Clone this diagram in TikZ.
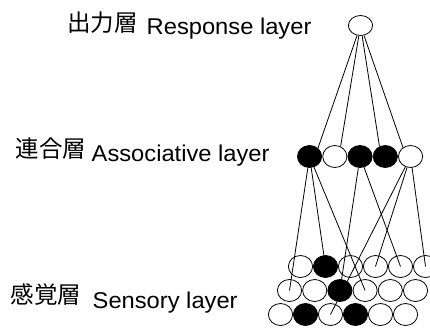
\documentclass[tikz,border=0pt]{standalone}
\usepackage{fontspec}
\setmainfont{Liberation Sans}
\newfontfamily\labelfont[FakeStretch=1.04]{Liberation Sans}
\newfontfamily\cjkfont{Noto Sans CJK JP}
\usetikzlibrary{shapes.geometric}

\begin{document}
\begin{tikzpicture}[x=1pt,y=-1pt,
  unit/.style={ellipse,draw,line width=0.8pt,inner sep=0pt,
    minimum width=24.2pt,minimum height=22pt},
  off/.style={unit,fill=white},
  on/.style={unit,fill=black},
  conn/.style={line width=0.8pt},
  en/.style={anchor=base west,inner sep=0pt,font=\labelfont\fontsize{22.8}{26}\selectfont},
  jp/.style={anchor=west,inner sep=0pt,font=\cjkfont\fontsize{23.5}{26}\selectfont}]
\useasboundingbox (0,0) rectangle (430,327);
\clip (0,0) rectangle (430,327);

% layer labels
\node[jp] (jout) at (67,22.5) {出力層};
\node[en] (eout) at (146.5,34) {Response layer};
\node[jp] (jass) at (15.5,149) {連合層};
\node[en] (eass) at (91.5,161) {Associative layer};
\node[jp] (jsen) at (10.5,294.7) {感覚層};
\node[en] (esen) at (92.5,308) {Sensory layer};

% response unit
\node[unit,minimum height=20pt] (out) at (360.5,25.5) {};

% associative units
\foreach \k/\s in {1/on,2/off,3/on,4/on,5/off}
  \node[\s] (a\k) at ({284.3+25.25*\k},156.5) {};

% sensory units, three staggered rows
\foreach \k/\s in {1/off,2/on,3/off,4/off,5/off,6/off}
  \node[\s] (s1\k) at ({275.5+25*\k},266.5) {};
\foreach \k/\s in {1/off,2/off,3/on,4/off,5/off,6/off}
  \node[\s] (s2\k) at ({264.3+25.2*\k},290.5) {};
\foreach \k/\s in {1/off,2/on,3/off,4/on,5/off,6/off}
  \node[\s] (s3\k) at ({255.5+25*\k},314.5) {};

% response -> associative
\draw[conn] (out) -- (a1.45);
\draw[conn] (out) -- (a2.60);
\draw[conn] (out) -- (a4.120);
\draw[conn] (out) -- (a5.130);

% associative -> sensory
\draw[conn] (a1) -- (s21.center);
\draw[conn] (a1) -- (s12.center);
\draw[conn] (a1) -- (s24.center);
\draw[conn] (a3) -- (s23.center);
\draw[conn] (a3) -- (s15.center);
\draw[conn] (a5) -- (s33.center);
\draw[conn] (a5) -- (s14.center);
\draw[conn] (a5) -- (s16.center);
\end{tikzpicture}
\end{document}
